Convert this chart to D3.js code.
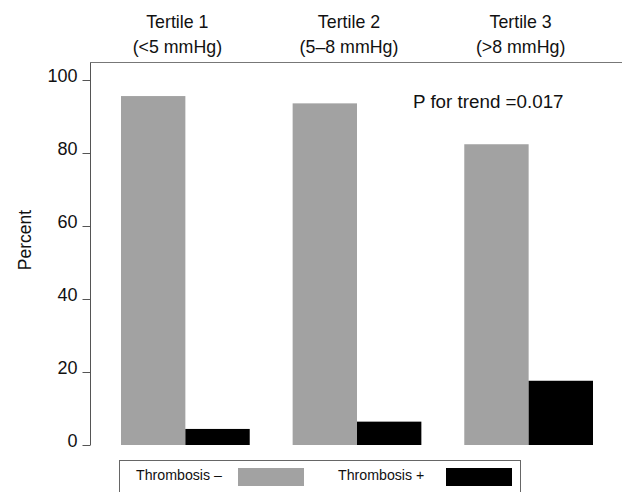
<!DOCTYPE html>
<html>
<head>
<meta charset="utf-8">
<script src="https://cdn.jsdelivr.net/npm/d3@7"></script>
<style>
  body { margin: 0; background: #fff; }
  svg { display: block; font-family: "Liberation Sans", Arial, sans-serif; }
</style>
</head>
<body>
<div id="chart"></div>
<script>
// data
var tertiles = ["Tertile 1", "Tertile 2", "Tertile 3"];
var ranges = ["(<5 mmHg)", "(5\u20138 mmHg)", "(>8 mmHg)"];
var series = ["Thrombosis \u2013", "Thrombosis +"];
var negValues = [95.6, 93.6, 82.4];
var posValues = [4.4, 6.4, 17.6];
var yTicks = [0, 20, 40, 60, 80, 100];
var colors = ["#a2a2a2", "#000000"];

var width = 622,
    height = 492;

var svg = d3.select("#chart").append("svg")
    .attr("width", width)
    .attr("height", height);

var y = d3.scaleLinear()
    .domain([0, 100])
    .range([445, 80]);

var x = d3.scaleBand()
    .domain(tertiles)
    .range([121, 593])
    .paddingInner(0.25)
    .paddingOuter(0);

var xs = d3.scaleBand()
    .domain(series)
    .range([0, x.bandwidth()]);

// frame: left axis line and top rule
svg.append("line")
    .attr("x1", 90.5).attr("x2", 90.5)
    .attr("y1", 62).attr("y2", y(0))
    .style("stroke", "#555")
    .style("stroke-width", "1px");

svg.append("line")
    .attr("x1", 90).attr("x2", 622)
    .attr("y1", 62.5).attr("y2", 62.5)
    .style("stroke", "#777")
    .style("stroke-width", "1.2px");

// y axis
var yAxis = d3.axisLeft(y)
    .tickValues(yTicks)
    .tickSize(8)
    .tickSizeOuter(0)
    .tickPadding(5);

var gy = svg.append("g")
    .attr("transform", "translate(90.5,0)")
    .call(yAxis);
gy.select(".domain").remove();
gy.selectAll(".tick line").style("stroke", "#555");
gy.selectAll(".tick text")
    .attr("dy", "0.1em")
    .style("font-size", "18px")
    .style("font-family", "Liberation Sans, Arial, sans-serif")
    .style("fill", "#111");

svg.append("text")
    .attr("transform", "translate(31,240) rotate(-90)")
    .attr("text-anchor", "middle")
    .style("font-size", "17.5px")
    .style("fill", "#111")
    .text("Percent");

// bars
var rows = tertiles.map(function(t, i) {
  return { tertile: t, values: [negValues[i], posValues[i]] };
});

var groups = svg.selectAll(".grp")
    .data(rows)
    .enter().append("g")
    .attr("class", "grp")
    .attr("transform", function(d) { return "translate(" + x(d.tertile) + ",0)"; });

groups.selectAll("rect")
    .data(function(d) { return d.values.map(function(v, j) { return { s: series[j], v: v, j: j }; }); })
    .enter().append("rect")
    .attr("x", function(d) { return xs(d.s); })
    .attr("width", xs.bandwidth())
    .attr("y", function(d) { return y(d.v); })
    .attr("height", function(d) { return y(0) - y(d.v); })
    .attr("fill", function(d) { return colors[d.j]; });

// column headers
var heads = svg.selectAll(".head")
    .data(tertiles)
    .enter().append("text")
    .attr("class", "head")
    .attr("text-anchor", "middle")
    .attr("x", function(d) { return x(d) + x.bandwidth() / 2 - 8; })
    .style("font-size", "17.8px")
    .style("fill", "#111");

heads.append("tspan")
    .attr("x", function(d) { return x(d) + x.bandwidth() / 2 - 8; })
    .attr("y", 28)
    .text(function(d) { return d; });
heads.append("tspan")
    .attr("x", function(d) { return x(d) + x.bandwidth() / 2 - 8; })
    .attr("y", 53)
    .text(function(d, i) { return ranges[i]; });

svg.append("text")
    .attr("x", 413)
    .attr("y", 108)
    .style("font-size", "18.8px")
    .style("fill", "#111")
    .text("P for trend =0.017");

// legend
var lg = svg.append("g").attr("class", "legend");
lg.append("rect")
    .attr("x", 119.5).attr("y", 460.5)
    .attr("width", 401).attr("height", 45)
    .attr("fill", "none")
    .style("stroke", "#666")
    .style("stroke-width", "1px");

var legendItems = [
  { label: series[0], tx: 136, sx: 238, color: colors[0] },
  { label: series[1], tx: 338, sx: 446, color: colors[1] }
];

lg.selectAll(".li-text")
    .data(legendItems)
    .enter().append("text")
    .attr("class", "li-text")
    .attr("x", function(d) { return d.tx; })
    .attr("y", 480)
    .style("font-size", "14.2px")
    .style("fill", "#111")
    .text(function(d) { return d.label; });

lg.selectAll(".li-sw")
    .data(legendItems)
    .enter().append("rect")
    .attr("class", "li-sw")
    .attr("x", function(d) { return d.sx; })
    .attr("y", 468)
    .attr("width", 66)
    .attr("height", 18)
    .attr("fill", function(d) { return d.color; });
</script>
</body>
</html>
